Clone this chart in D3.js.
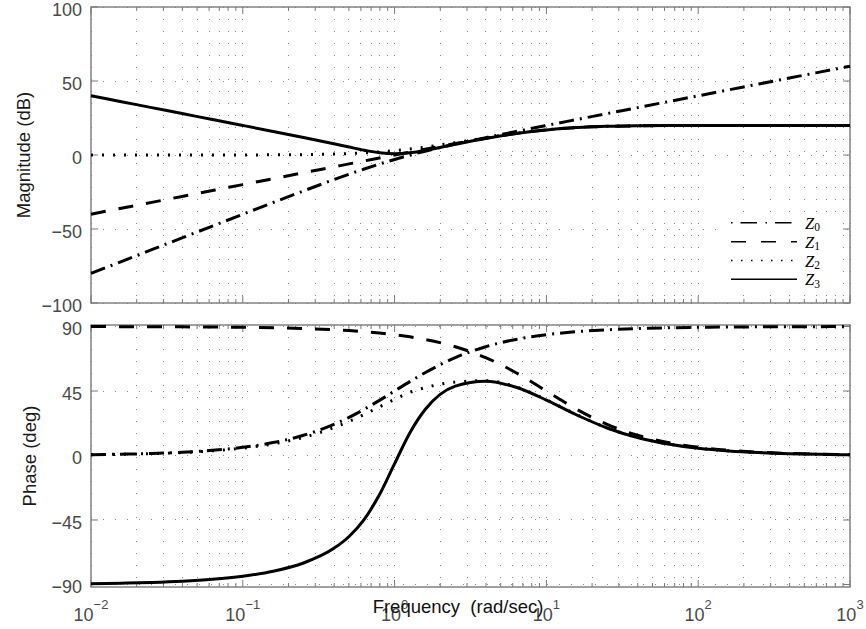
<!DOCTYPE html>
<html><head><meta charset="utf-8">
<script src="https://cdn.jsdelivr.net/npm/d3@7"></script>
<style>body{margin:0;background:#fff}</style>
</head><body>
<svg id="c" width="866" height="629"></svg>
<script>
// ---- data ----
const freq = [0.01,0.01585,0.02512,0.03981,0.0631,0.1,0.1585,0.2512,0.3981,0.5012,0.631,0.7943,1,1.259,1.585,2.512,3.981,6.31,10,15.85,25.12,39.81,63.1,100,158.5,251.2,398.1,631,1000];
const magZ0 = [-80,-72,-64,-56,-48,-40.04,-32.11,-24.27,-16.64,-12.97,-9.46,-6.12,-3.01,-0.12,2.55,7.36,11.73,15.89,19.96,23.98,27.99,32,36,40,44,48,52,56,60];
const magZ1 = [-40,-36,-32,-28,-24,-20,-16,-12,-8.01,-6.01,-4.02,-2.03,-0.04,1.93,3.89,7.73,11.36,14.55,16.99,18.55,19.36,19.73,19.89,19.96,19.98,20,20,20,20];
const magZ2 = [0,0,0,0.01,0.02,0.04,0.11,0.26,0.63,0.96,1.44,2.10,2.97,4.06,5.35,8.37,11.63,14.65,17.03,18.56,19.37,19.74,19.89,19.96,19.98,19.99,20,20,20];
const magZ3 = [40,36,32,27.99,23.99,19.97,15.92,11.79,7.54,5.36,3.25,1.51,0.78,1.47,3.16,7.28,11.16,14.46,16.96,18.53,19.36,19.73,19.89,19.96,19.98,19.99,20,20,20];
const phZ0 = [0.57,0.91,1.44,2.28,3.61,5.71,9.01,14.1,21.71,26.62,32.25,38.46,45,51.54,57.75,68.29,75.9,81.0,84.29,86.39,87.72,88.56,89.09,89.43,89.64,89.77,89.86,89.91,89.94];
const phZ1 = [89.94,89.91,89.86,89.77,89.64,89.43,89.09,88.56,87.72,87.13,86.39,85.46,84.29,82.82,80.99,75.9,68.29,57.75,45,32.25,21.71,14.1,9.01,5.71,3.61,2.28,1.44,0.91,0.57];
const phZ2 = [0.52,0.82,1.3,2.05,3.25,5.14,8.1,12.66,19.43,23.75,28.64,33.92,39.2,44.0,47.3,51.2,52.2,47.9,38.9,28.5,19.3,12.6,8.05,5.1,3.23,2.04,1.29,0.81,0.51];
const phZ3 = [-89.43,-89.09,-88.56,-87.72,-86.38,-84.23,-80.77,-75.01,-64.79,-56.51,-44.54,-27.44,-5.71,15.73,31.92,48.41,51.86,47.61,38.66,28.26,19.2,12.52,8.01,5.08,3.21,2.03,1.28,0.81,0.51];
const seriesNames = ["0","1","2","3"];
const magTicks = [-100,-50,0,50,100];
const phaseTicks = [-90,-45,0,45,90];
const xMajorExp = [-2,-1,0,1,2,3];
const magLabel = "Magnitude (dB)";
const phaseLabel = "Phase (deg)";
const xLabel = "Frequency  (rad/sec)";

// ---- layout & style ----
const svg = d3.select("#c");
const X0 = 91, X1 = 850;
const x = d3.scaleLog().domain([0.01, 1000]).range([X0, X1]);
const yMag = d3.scaleLinear().domain([-100, 100]).range([303, 7]);
const yPh = d3.scaleLinear().domain([-91.75, 91.05]).range([587, 325]);
const FONT = "'Liberation Sans', Arial, Helvetica, sans-serif";
const dashes = ["15,6,2,6", "15,13", "2,9", null];
const legendDashes = ["1.5,8,16.5,8.5", "15,15", "1.5,8.5", null];

function panel(y, yTicks, series, id) {
  const [b, t] = y.range();
  const g = svg.append("g");
  const xt = x.ticks();
  g.selectAll(".vg").data(xt).join("line")
    .attr("x1", d => x(d)).attr("x2", d => x(d))
    .attr("y1", t).attr("y2", b)
    .attr("stroke", "#8a8a8a").attr("stroke-width", 1)
    .attr("stroke-dasharray", "1,11").attr("shape-rendering", "crispEdges");
  g.selectAll(".hg").data(yTicks).join("line")
    .attr("x1", X0).attr("x2", X1)
    .attr("y1", d => y(d)).attr("y2", d => y(d))
    .attr("stroke", "#8a8a8a").attr("stroke-width", 1)
    .attr("stroke-dasharray", "1,11").attr("shape-rendering", "crispEdges");
  g.append("rect").attr("x", X0).attr("y", t).attr("width", X1 - X0).attr("height", b - t)
    .attr("fill", "none").attr("stroke", "#7a7a7a").attr("stroke-width", 1.4);
  xt.forEach(d => {
    const major = Math.abs(Math.log10(d) - Math.round(Math.log10(d))) < 1e-6;
    const L = major ? 7 : 4;
    g.append("line").attr("x1", x(d)).attr("x2", x(d)).attr("y1", b).attr("y2", b - L)
      .attr("stroke", "#7a7a7a").attr("stroke-width", 1);
    g.append("line").attr("x1", x(d)).attr("x2", x(d)).attr("y1", t).attr("y2", t + L)
      .attr("stroke", "#7a7a7a").attr("stroke-width", 1);
  });
  yTicks.forEach(d => {
    g.append("line").attr("x1", X0).attr("x2", X0 + 7).attr("y1", y(d)).attr("y2", y(d))
      .attr("stroke", "#7a7a7a").attr("stroke-width", 1);
    g.append("line").attr("x1", X1).attr("x2", X1 - 7).attr("y1", y(d)).attr("y2", y(d))
      .attr("stroke", "#7a7a7a").attr("stroke-width", 1);
    g.append("text").attr("x", 82).attr("y", y(d)).attr("dy", 8.6)
      .attr("text-anchor", "end").attr("font-family", FONT).attr("font-size", 18)
      .attr("fill", "#4a4a4a").text(d3.format("d")(d));
  });
  svg.append("clipPath").attr("id", id).append("rect")
    .attr("x", X0 - 2).attr("y", t - 2).attr("width", X1 - X0 + 4).attr("height", b - t + 4);
  const line = d3.line().x(d => x(d[0])).y(d => y(d[1])).curve(d3.curveMonotoneX);
  const lg = svg.append("g").attr("clip-path", `url(#${id})`);
  series.forEach((vals, i) => {
    lg.append("path").attr("d", line(freq.map((f, k) => [f, vals[k]])))
      .attr("fill", "none").attr("stroke", "#000").attr("stroke-width", 3)
      .attr("stroke-dasharray", dashes[i]).attr("stroke-linejoin", "round");
  });
}

panel(yMag, magTicks, [magZ0, magZ1, magZ2, magZ3], "clipTop");
panel(yPh, phaseTicks, [phZ0, phZ1, phZ2, phZ3], "clipBot");

// x tick labels (bottom panel)
xMajorExp.forEach(e => {
  const t = svg.append("text").attr("x", x(Math.pow(10, e))).attr("y", 621)
    .attr("text-anchor", "middle").attr("font-family", FONT).attr("font-size", 18).attr("fill", "#4a4a4a");
  t.append("tspan").text("10");
  t.append("tspan").attr("dy", -12.5).attr("font-size", 13).text(d3.format("d")(e));
});

// axis labels
svg.append("text").attr("transform", "translate(30,155) rotate(-90)")
  .attr("text-anchor", "middle").attr("font-family", FONT).attr("font-size", 18.5)
  .attr("fill", "#1a1a1a").text(magLabel);
svg.append("text").attr("transform", "translate(36,456) rotate(-90)")
  .attr("text-anchor", "middle").attr("font-family", FONT).attr("font-size", 18.5)
  .attr("fill", "#1a1a1a").text(phaseLabel);
svg.append("text").attr("x", 458).attr("y", 613)
  .attr("text-anchor", "middle").attr("font-family", FONT).attr("font-size", 18.5)
  .attr("fill", "#111").style("white-space", "pre").text(xLabel);

// legend
const lgd = svg.append("g");
lgd.append("rect").attr("x", 727).attr("y", 213).attr("width", 116).attr("height", 80).attr("fill", "#fff");
const rowY = [222.7, 241.7, 260.5, 279.3];
seriesNames.forEach((n, i) => {
  lgd.append("line").attr("x1", 731).attr("x2", 797).attr("y1", rowY[i]).attr("y2", rowY[i])
    .attr("stroke", "#000").attr("stroke-width", 1.5).attr("stroke-dasharray", legendDashes[i]);
  const t = lgd.append("text").attr("x", 805).attr("y", rowY[i] + 6)
    .attr("font-family", "'Liberation Serif', 'DejaVu Serif', serif").attr("font-size", 16.5).attr("fill", "#000");
  t.append("tspan").attr("font-style", "italic").text("Z");
  t.append("tspan").attr("font-size", 11.5).attr("dy", 2.5).text(n);
});
</script>
</body></html>
